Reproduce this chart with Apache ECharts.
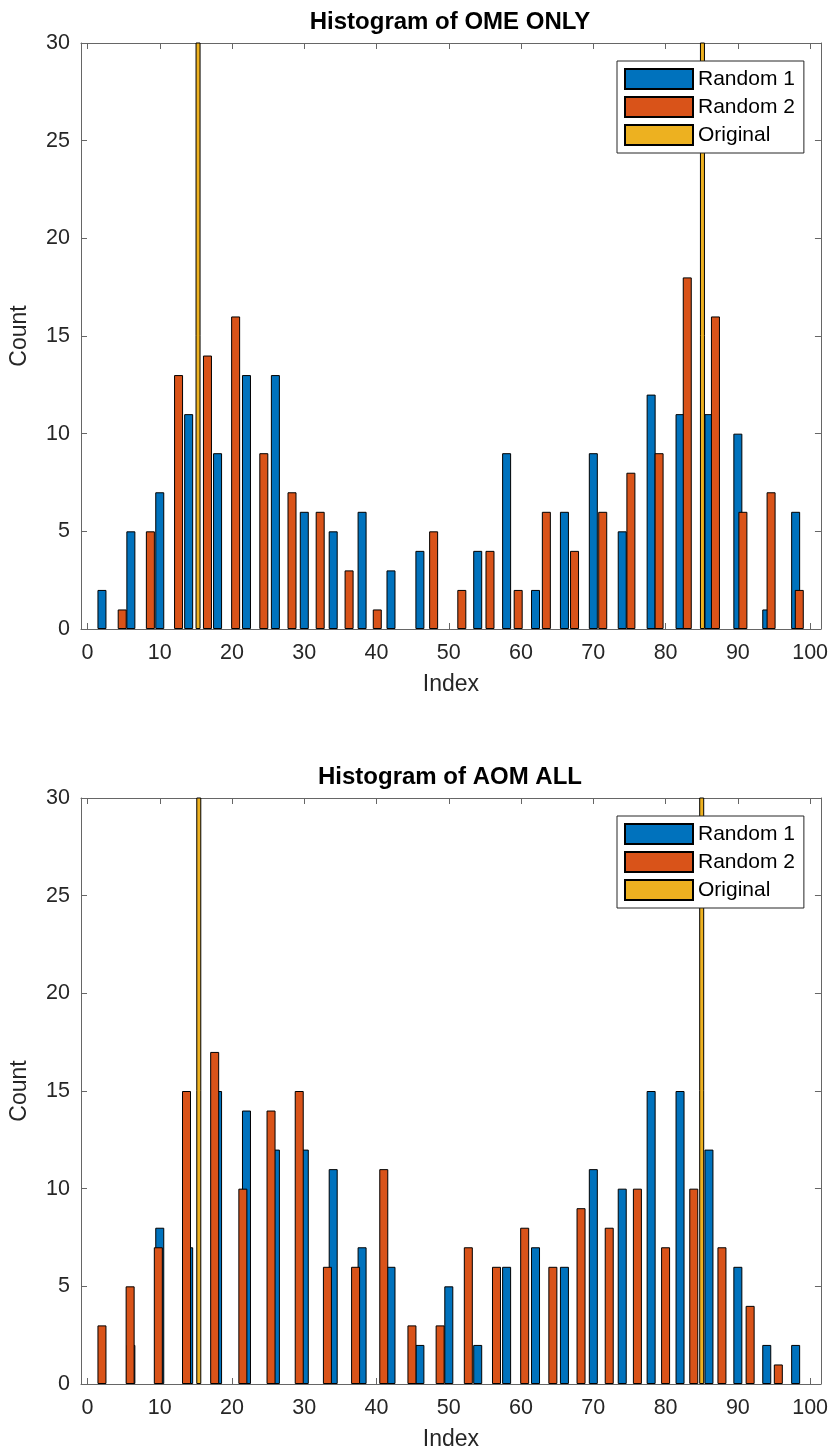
<!DOCTYPE html>
<html>
<head>
<meta charset="utf-8">
<title>Histogram of OME ONLY / AOM ALL</title>
<script src="https://cdn.jsdelivr.net/npm/echarts@6/dist/echarts.min.js"></script>
<style>
html, body { margin: 0; padding: 0; background: #fff; }
#chart { width: 831px; height: 1454px; }
</style>
</head>
<body>
<div id="chart"></div>
<script>
// bin centres on the Index axis
const rand1Bins = [2, 6, 10, 14, 18, 22, 26, 30, 34, 38, 42, 46, 50, 54, 58, 62, 66, 70, 74, 78, 82, 86, 90, 94, 98];
const omeRand2Bins = [4.8, 8.7, 12.6, 16.6, 20.5, 24.4, 28.3, 32.2, 36.2, 40.1, 44.0, 47.9, 51.8, 55.7, 59.6, 63.5, 67.4, 71.3, 75.2, 79.1, 83.0, 86.9, 90.7, 94.6, 98.5];
const aomRand2Bins = [2.0, 5.9, 9.8, 13.7, 17.6, 21.5, 25.4, 29.3, 33.2, 37.1, 41.0, 44.9, 48.8, 52.7, 56.6, 60.5, 64.4, 68.3, 72.2, 76.1, 80.0, 83.9, 87.8, 91.7, 95.6];
const omeOrigBins = [15.3, 85.1];
const aomOrigBins = [15.4, 85.0];

// counts
const omeRand1 = [2, 5, 7, 11, 9, 13, 13, 6, 5, 6, 3, 4, 0, 4, 9, 2, 6, 9, 5, 12, 11, 11, 10, 1, 6];
const omeRand2 = [1, 5, 13, 14, 16, 9, 7, 6, 3, 1, 0, 5, 2, 4, 2, 6, 4, 6, 8, 9, 18, 16, 6, 7, 2];
const aomRand1 = [0, 2, 8, 7, 15, 14, 12, 12, 11, 7, 6, 2, 5, 2, 6, 7, 6, 11, 10, 15, 15, 12, 6, 2, 2];
const aomRand2 = [3, 5, 7, 15, 17, 10, 14, 15, 6, 6, 11, 3, 3, 7, 6, 8, 6, 9, 8, 10, 7, 10, 7, 4, 1];
// the original counts run far past the top of the axes
const omeOrig = [120, 120];
const aomOrig = [120, 120];

const xTicks = [0, 10, 20, 30, 40, 50, 60, 70, 80, 90, 100];
const titles = ['Histogram of OME ONLY', 'Histogram of AOM ALL'];
const names = ['Random 1', 'Random 2', 'Original'];

const FONT = '"Liberation Sans", Arial, Helvetica, sans-serif';
const LINE = '#666';
const TEXT = '#262626';
const colors = ['#0072BD', '#D95319', '#EDB120'];

const gridTops = [43, 798];

// empty bins are not drawn at all (no flat bar on the axis)
function pairs(xs, ys) {
  return xs.map((x, i) => [x, ys[i] === 0 ? '-' : ys[i]]);
}

const chart = echarts.init(document.getElementById('chart'));

let grid = [], xAxis = [], yAxis = [], title = [], legend = [], series = [];

gridTops.forEach((top, g) => {
  grid.push({ left: 78, top: top, width: 744, height: 586 });

  title.push({
    text: titles[g], left: 450, top: top - 33, textAlign: 'center', padding: 0,
    textStyle: { fontFamily: FONT, fontSize: 24, fontWeight: 'bold', color: '#000' }
  });

  // bottom axis with labels, top axis only for the inner ticks
  xAxis.push({
    type: 'value', gridIndex: g, position: 'bottom', min: -0.9, max: 101.5,
    axisLine: { onZero: false, lineStyle: { color: LINE, width: 1 } },
    axisTick: { inside: true, length: 6, customValues: xTicks, lineStyle: { color: LINE } },
    axisLabel: { customValues: xTicks, fontFamily: FONT, fontSize: 21.5, color: TEXT, margin: 13 },
    splitLine: { show: false },
    name: 'Index', nameLocation: 'middle', nameGap: 44,
    nameTextStyle: { fontFamily: FONT, fontSize: 23, color: TEXT }
  });
  xAxis.push({
    type: 'value', gridIndex: g, position: 'top', min: -0.9, max: 101.5,
    axisLine: { onZero: false, lineStyle: { color: LINE, width: 1 } },
    axisTick: { inside: true, length: 6, customValues: xTicks, lineStyle: { color: LINE } },
    axisLabel: { show: false },
    splitLine: { show: false }
  });

  yAxis.push({
    type: 'value', gridIndex: g, position: 'left', min: 0, max: 30, interval: 5,
    axisLine: { show: true, onZero: false, lineStyle: { color: LINE, width: 1 } },
    axisTick: { show: true, inside: true, length: 6, lineStyle: { color: LINE } },
    axisLabel: { fontFamily: FONT, fontSize: 21.5, color: TEXT, margin: 11 },
    splitLine: { show: false },
    name: 'Count', nameLocation: 'middle', nameGap: 50,
    nameTextStyle: { fontFamily: FONT, fontSize: 23, color: TEXT }
  });
  yAxis.push({
    type: 'value', gridIndex: g, position: 'right', min: 0, max: 30, interval: 5,
    axisLine: { show: true, onZero: false, lineStyle: { color: LINE, width: 1 } },
    axisTick: { show: true, inside: true, length: 6, lineStyle: { color: LINE } },
    axisLabel: { show: false },
    splitLine: { show: false }
  });

  legend.push({
    data: names, orient: 'vertical', left: 617, top: top + 18,
    icon: 'rect', itemWidth: 68, itemHeight: 20, itemGap: 6,
    padding: [7, 9, 7, 7],
    backgroundColor: '#fff', borderColor: '#262626', borderWidth: 1,
    textStyle: { fontFamily: FONT, fontSize: 21, color: '#000' },
    selectedMode: false
  });
});

const r1 = [omeRand1, aomRand1];
const r2 = [omeRand2, aomRand2];
const r2Bins = [omeRand2Bins, aomRand2Bins];
const origBins = [omeOrigBins, aomOrigBins];
const orig = [omeOrig, aomOrig];

[0, 1].forEach(g => {
  const barBase = {
    type: 'bar', barGap: '-100%', barWidth: 9,
    yAxisIndex: g * 2, silent: true
  };
  series.push(Object.assign({}, barBase, {
    name: names[0], xAxisIndex: g * 2,
    data: pairs(rand1Bins, r1[g]),
    itemStyle: { color: colors[0], borderColor: '#000', borderWidth: 1 }
  }));
  series.push(Object.assign({}, barBase, {
    name: names[1], xAxisIndex: g * 2,
    data: pairs(r2Bins[g], r2[g]),
    itemStyle: { color: colors[1], borderColor: '#000', borderWidth: 1 }
  }));
  // original on the top axis so its narrow bars get their own layout
  series.push(Object.assign({}, barBase, {
    name: names[2], xAxisIndex: g * 2 + 1, barWidth: 5,
    data: pairs(origBins[g], orig[g]),
    itemStyle: { color: colors[2], borderColor: '#000', borderWidth: 1 }
  }));
});

chart.setOption({
  animation: false,
  backgroundColor: '#fff',
  title: title,
  legend: legend,
  grid: grid,
  xAxis: xAxis,
  yAxis: yAxis,
  series: series
});
</script>
</body>
</html>
